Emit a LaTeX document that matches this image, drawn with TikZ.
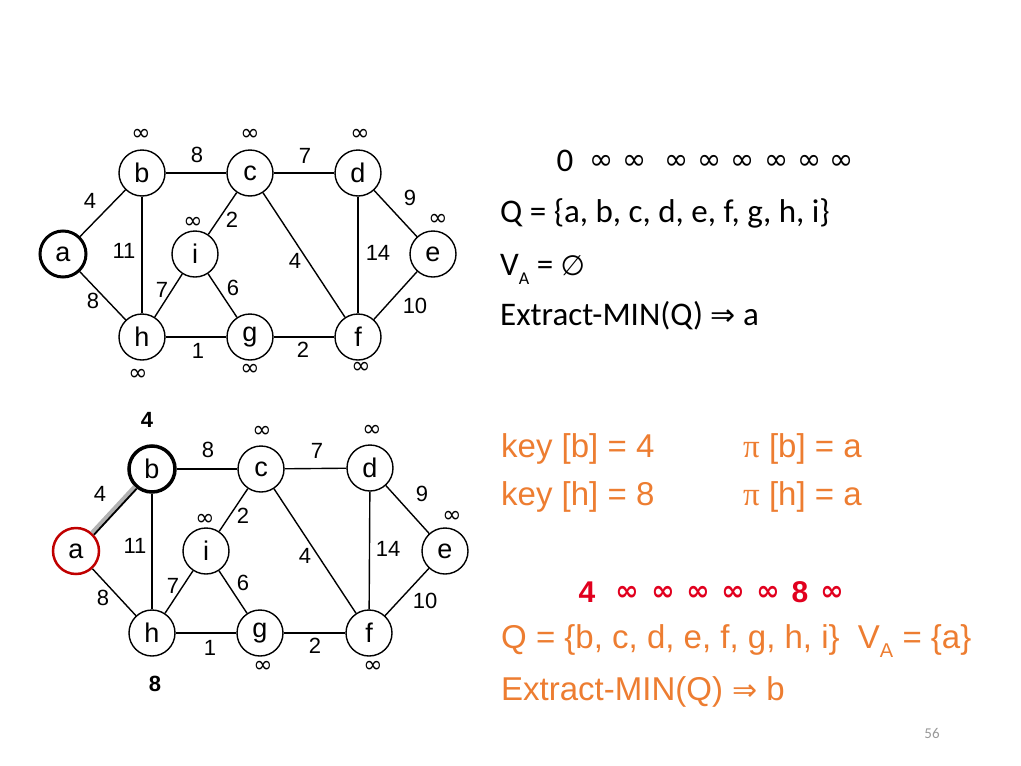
\documentclass[tikz,border=0pt]{standalone}
\usepackage{fontspec}
\setmainfont{Liberation Sans}
\newfontfamily\calfont{Carlito}
\newfontfamily\djfont{DejaVu Sans}
\newfontfamily\tmsfont{Liberation Serif}
\definecolor{orng}{RGB}{237,125,49}
\definecolor{redc}{RGB}{225,0,30}
\definecolor{redn}{RGB}{192,0,0}
\begin{document}
\begin{tikzpicture}[x=1pt,y=-1pt,
  vtx/.style={circle,draw,line width=1.4pt,minimum size=46pt,inner sep=0pt,font=\fontsize{27}{27}\selectfont},
  wt/.style={font=\fontsize{22}{22}\selectfont,inner sep=0pt},
  inflab/.style={font=\djfont\fontsize{23}{23}\selectfont,inner sep=0pt},
  bwt/.style={font=\bfseries\fontsize{22}{22}\selectfont,inner sep=0pt},
  edg/.style={line width=1.4pt},
  caltxt/.style={anchor=base west,inner sep=0pt,font=\calfont\fontsize{33}{33}\selectfont},
  ortxt/.style={anchor=base west,inner sep=0pt,text=orng,font=\fontsize{33}{33}\selectfont},
  toprow/.style={inner sep=0pt,font=\djfont\fontsize{29}{29}\selectfont},
  redrow/.style={inner sep=0pt,text=redc,font=\djfont\bfseries\fontsize{28}{28}\selectfont},
  reddig/.style={inner sep=0pt,text=redc,font=\bfseries\fontsize{30}{30}\selectfont}]
\useasboundingbox (0,0) rectangle (1021,766);
% ---------- top graph ----------
\node[vtx,line width=3pt] (a1) at (63,254) {a};
\node[vtx] (b1) at (142,173) {b};
\node[vtx] (c1) at (250,173) {c};
\node[vtx] (d1) at (358,173) {d};
\node[vtx] (e1) at (433,254) {e};
\node[vtx] (i1) at (195,254) {i};
\node[vtx] (h1) at (142,337) {h};
\node[vtx] (g1) at (250,337) {g};
\node[vtx] (f1) at (358,337) {f};
\draw[edg] (a1) -- (b1);
\draw[edg] (a1) -- (h1);
\draw[edg] (b1) -- (c1);
\draw[edg] (b1) -- (h1);
\draw[edg] (c1) -- (d1);
\draw[edg] (c1) -- (i1);
\draw[edg] (c1) -- (f1);
\draw[edg] (d1) -- (e1);
\draw[edg] (d1) -- (f1);
\draw[edg] (e1) -- (f1);
\draw[edg] (i1) -- (h1);
\draw[edg] (i1) -- (g1);
\draw[edg] (h1) -- (g1);
\draw[edg] (g1) -- (f1);
\node[wt] (w1bc) at (197,155) {8};
\node[wt] (w1cd) at (305,156) {7};
\node[wt] (w1ab) at (90,201) {4};
\node[wt] (w1ah) at (93,301) {8};
\node[wt] (w1bh) at (124,251) {11};
\node[wt] (w1ci) at (232,220) {2};
\node[wt] (w1hi) at (162,290) {7};
\node[wt] (w1ig) at (233,288) {6};
\node[wt] (w1hg) at (198,351) {1};
\node[wt] (w1gf) at (303,350) {2};
\node[wt] (w1cf) at (295,261) {4};
\node[wt] (w1df) at (378,253) {14};
\node[wt] (w1de) at (410,198) {9};
\node[wt] (w1ef) at (415,306) {10};
\node[inflab] (k1b) at (141,135) {∞};
\node[inflab] (k1c) at (250,135) {∞};
\node[inflab] (k1d) at (360,135) {∞};
\node[inflab] (k1e) at (438,220) {∞};
\node[inflab] (k1i) at (193,223) {∞};
\node[inflab] (k1h) at (138,375) {∞};
\node[inflab] (k1g) at (250,370) {∞};
\node[inflab] (k1f) at (361,368) {∞};
% ---------- bottom graph ----------
\node[vtx,draw=redn,line width=2.5pt] (a2) at (76,551) {a};
\node[vtx,line width=3.5pt] (b2) at (152,469) {b};
\node[vtx] (c2) at (261,469) {c};
\node[vtx] (d2) at (370,468) {d};
\node[vtx] (e2) at (445,551) {e};
\node[vtx] (i2) at (206,551) {i};
\node[vtx] (h2) at (152,633) {h};
\node[vtx] (g2) at (260,633) {g};
\node[vtx] (f2) at (369,633) {f};
\draw[line width=5.5pt,gray!60] (a2) -- (b2);
\draw[line width=1.8pt,transform canvas={shift={(1.5,1.5)}}] (a2) -- (b2);
\draw[edg] (a2) -- (h2);
\draw[edg] (b2) -- (c2);
\draw[edg] (b2) -- (h2);
\draw[edg] (c2) -- (d2);
\draw[edg] (c2) -- (i2);
\draw[edg] (c2) -- (f2);
\draw[edg] (d2) -- (e2);
\draw[edg] (d2) -- (f2);
\draw[edg] (e2) -- (f2);
\draw[edg] (i2) -- (h2);
\draw[edg] (i2) -- (g2);
\draw[edg] (h2) -- (g2);
\draw[edg] (g2) -- (f2);
\node[wt] (w2bc) at (208,450) {8};
\node[wt] (w2cd) at (317,451) {7};
\node[wt] (w2ab) at (100,494) {4};
\node[wt] (w2ah) at (103,598) {8};
\node[wt] (w2bh) at (135,546) {11};
\node[wt] (w2ci) at (243,516) {2};
\node[wt] (w2hi) at (173,586) {7};
\node[wt] (w2ig) at (243,583) {6};
\node[wt] (w2hg) at (210,648) {1};
\node[wt] (w2gf) at (315,646) {2};
\node[wt] (w2cf) at (305,556) {4};
\node[wt] (w2df) at (388,549) {14};
\node[wt] (w2de) at (422,494) {9};
\node[wt] (w2ef) at (425,601) {10};
\node[bwt] (k2b) at (147,420) {4};
\node[bwt] (k2h) at (155,684) {8};
\node[inflab] (k2c) at (262,432) {∞};
\node[inflab] (k2d) at (372,431) {∞};
\node[inflab] (k2e) at (452,517) {∞};
\node[inflab] (k2i) at (205,520) {∞};
\node[inflab] (k2g) at (263,667) {∞};
\node[inflab] (k2f) at (373,667) {∞};
% ---------- top text ----------
\node[inner sep=0pt,font=\calfont\fontsize{33}{33}\selectfont] (r0) at (565,161) {0};
\foreach \xx [count=\n] in {602,635,677,710,743,777,810,842}
  \node[toprow] (r\n) at (\xx,162) {∞};
\node[caltxt] (tq) at (500,222) {Q = \{a, b, c, d, e, f, g, h, i\}};
\node[caltxt] (tva) at (500,275) {V\raisebox{-9pt}{\fontsize{18}{18}\selectfont A} = {\djfont\fontsize{28}{28}\selectfont ∅}};
\node[caltxt] (tex) at (500,325) {Extract-MIN(Q) {\djfont\fontsize{30}{30}\selectfont ⇒} a};
% ---------- bottom text ----------
\node[ortxt] (kb) at (501,457) {key [b] = 4};
\node[ortxt] (kh) at (501,505) {key [h] = 8};
\node[ortxt] (pb) at (743,457) {{\tmsfont π} [b] = a};
\node[ortxt] (ph) at (743,505) {{\tmsfont π} [h] = a};
\node[reddig] (s0) at (587,592) {4};
\foreach \xx [count=\n] in {627,663,698,733,768}
  \node[redrow] (s\n) at (\xx,593) {∞};
\node[reddig] (s6) at (800,592) {8};
\node[redrow] (s7) at (832,593) {∞};
\node[ortxt] (oq) at (501,648) {Q = \{b, c, d, e, f, g, h, i\}\ \ V\raisebox{-9pt}{\fontsize{20}{20}\selectfont A} = \{a\}};
\node[ortxt] (oex) at (501,700) {Extract-MIN(Q) {\djfont\fontsize{30}{30}\selectfont ⇒} b};
\node[inner sep=0pt,text=gray!80,font=\calfont\fontsize{15}{15}\selectfont] (pg) at (932,733) {56};
\end{tikzpicture}
\end{document}
